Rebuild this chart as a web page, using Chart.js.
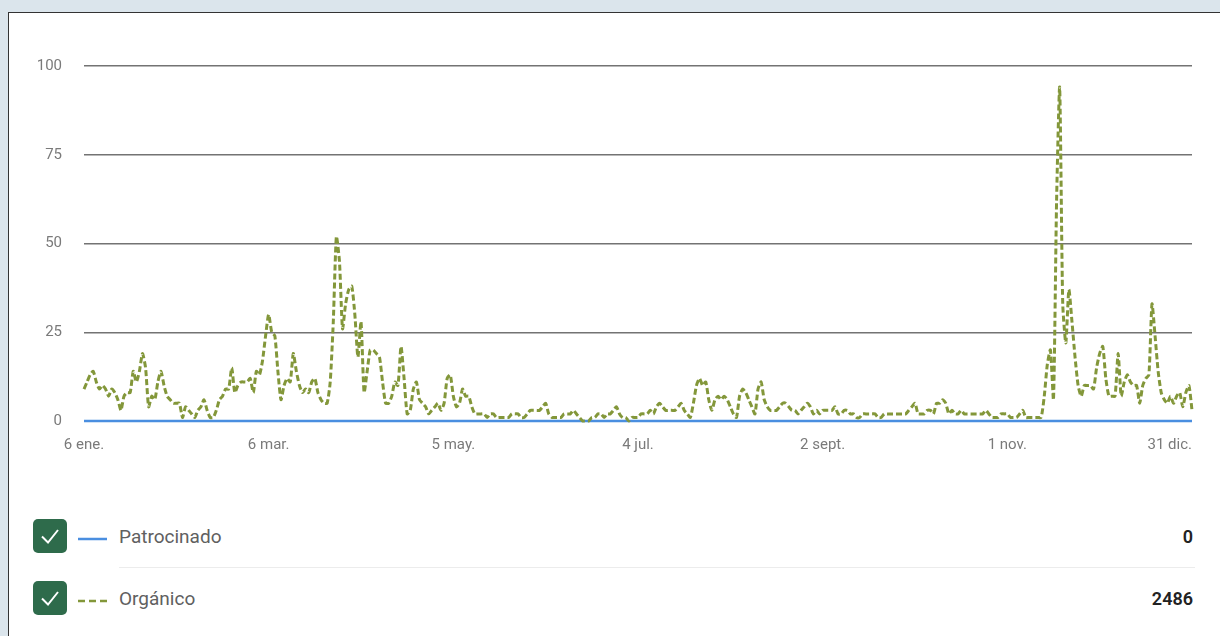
<!DOCTYPE html>
<html>
<head>
<meta charset="utf-8">
<script src="https://cdn.jsdelivr.net/npm/chart.js@4.4.1/dist/chart.umd.min.js"></script>
<style>
    body { margin: 0; width: 1220px; height: 636px; overflow: hidden; background: #dbe5ec; font-family: Roboto, "Noto Sans", sans-serif; }
    #card { position: absolute; left: 8px; top: 12px; width: 1220px; height: 640px; background: #fff; border-top: 1px solid #333; border-left: 1px solid #333; }
    #chartBox { position: absolute; left: 0; top: 0; width: 1211px; height: 460px; }
    .row { position: absolute; left: 24px; width: 1160px; height: 34px; display: flex; align-items: center; }
    .check { width: 34px; height: 34px; border-radius: 5px; background: #2e6b4b; flex: none; }
    .sample { width: 29px; margin-left: 11px; margin-right: 12px; flex: none; }
    .name { font-size: 19px; color: #606060; flex: 1; }
    .total { font-size: 18px; font-weight: 600; color: #222; }
    #sep { position: absolute; left: 110px; top: 554px; width: 1076px; height: 1px; background: #ececec; }
</style>
</head>
<body>
<div id="card">
    <div id="chartBox"><canvas id="myChart"></canvas></div>
    <div id="legend"></div>
    <div id="sep"></div>
</div>
<script>
// daily values, 6 ene. -> 31 dic.
const organico = [
    9, 11, 13, 14, 11, 9, 10, 9, 7, 9,
    8, 6, 3, 7, 8, 8, 14, 11, 14, 19,
    15, 4, 7, 6, 11, 14, 10, 7, 6, 5,
    5, 5, 1, 4, 3, 2, 1, 3, 4, 6,
    3, 1, 1, 3, 6, 7, 9, 9, 15, 8,
    10, 11, 11, 11, 12, 8, 14, 13, 17, 24,
    30,
    25, 24, 14, 6, 10, 12, 11, 19, 14, 10,
    8, 9, 8, 11, 12, 8, 6, 5, 5, 11,
    28, 52, 45, 26, 33, 37, 38, 30, 18, 28,
    8, 14, 20, 20, 19, 18, 11, 5, 5, 7,
    11, 10, 21, 12, 2, 3, 9, 11, 6, 5,
    4, 2, 3, 4, 5, 3, 5, 12, 13,
    7, 4, 5, 9, 7, 7, 4, 2, 2, 2,
    2, 1, 2, 2, 1, 1, 1, 1, 1, 2,
    2, 2, 1, 1, 2, 3, 3, 3, 3, 4,
    5, 2, 1, 1, 1, 1, 2, 2, 2, 3,
    2, 1, 0, 0, 0, 1, 1, 2, 2, 1,
    2, 2, 3, 4, 2, 1, 1, 0, 1, 1,
    1, 2, 2, 2, 3, 2, 4, 5, 4, 3,
    3, 3, 3, 4, 5, 3, 2, 1, 5, 10,
    12, 10, 11, 6, 3, 6, 7, 6, 7, 6,
    4, 2, 1, 7, 9, 8, 6, 4, 2, 9,
    11, 6, 4, 3, 3, 3, 4, 5, 5, 4,
    3, 3, 2, 3, 4, 5, 4, 2, 3, 2,
    3, 3, 3, 3, 4, 2, 2, 3, 3, 2,
    2, 1, 1, 2, 2, 2, 2, 2, 1, 1,
    2, 2, 2, 2, 2, 2, 2, 2, 3, 4,
    5, 2, 2, 2, 3, 3, 2, 5, 5, 6,
    5, 2, 3, 2, 2, 3, 2, 2, 2, 2,
    2, 2, 2, 3, 2, 1, 1, 1, 2, 2,
    2, 1, 1, 1, 2, 3, 1, 1, 1, 1,
    1, 1, 7, 16, 20, 6, 62, 94, 33, 22,
    37, 28, 18, 10, 7, 10, 10, 10, 9, 15,
    19, 21, 12, 7, 7, 7, 19, 7, 11, 13,
    11, 10, 10, 5, 10, 12, 13, 33, 24, 14,
    8, 6, 5, 7, 5, 7, 8, 4, 8, 10,
    3
];

const patrocinado = [
    0, 0, 0, 0, 0, 0, 0, 0, 0, 0, 0, 0, 0, 0, 0, 0, 0, 0, 0,
    0, 0, 0, 0, 0, 0, 0, 0, 0, 0, 0, 0, 0, 0, 0, 0, 0, 0, 0,
    0, 0, 0, 0, 0, 0, 0, 0, 0, 0, 0, 0, 0, 0, 0, 0, 0, 0, 0,
    0, 0, 0, 0, 0, 0, 0, 0, 0, 0, 0, 0, 0, 0, 0, 0, 0, 0, 0,
    0, 0, 0, 0, 0, 0, 0, 0, 0, 0, 0, 0, 0, 0, 0, 0, 0, 0, 0,
    0, 0, 0, 0, 0, 0, 0, 0, 0, 0, 0, 0, 0, 0, 0, 0, 0, 0, 0,
    0, 0, 0, 0, 0, 0, 0, 0, 0, 0, 0, 0, 0, 0, 0, 0, 0, 0, 0,
    0, 0, 0, 0, 0, 0, 0, 0, 0, 0, 0, 0, 0, 0, 0, 0, 0, 0, 0,
    0, 0, 0, 0, 0, 0, 0, 0, 0, 0, 0, 0, 0, 0, 0, 0, 0, 0, 0,
    0, 0, 0, 0, 0, 0, 0, 0, 0, 0, 0, 0, 0, 0, 0, 0, 0, 0, 0,
    0, 0, 0, 0, 0, 0, 0, 0, 0, 0, 0, 0, 0, 0, 0, 0, 0, 0, 0,
    0, 0, 0, 0, 0, 0, 0, 0, 0, 0, 0, 0, 0, 0, 0, 0, 0, 0, 0,
    0, 0, 0, 0, 0, 0, 0, 0, 0, 0, 0, 0, 0, 0, 0, 0, 0, 0, 0,
    0, 0, 0, 0, 0, 0, 0, 0, 0, 0, 0, 0, 0, 0, 0, 0, 0, 0, 0,
    0, 0, 0, 0, 0, 0, 0, 0, 0, 0, 0, 0, 0, 0, 0, 0, 0, 0, 0,
    0, 0, 0, 0, 0, 0, 0, 0, 0, 0, 0, 0, 0, 0, 0, 0, 0, 0, 0,
    0, 0, 0, 0, 0, 0, 0, 0, 0, 0, 0, 0, 0, 0, 0, 0, 0, 0, 0,
    0, 0, 0, 0, 0, 0, 0, 0, 0, 0, 0, 0, 0, 0, 0, 0, 0, 0, 0,
    0, 0, 0, 0, 0, 0, 0, 0, 0, 0, 0, 0, 0, 0, 0, 0, 0, 0, 0
];

const tickLabels = ['6 ene.', '6 mar.', '5 may.', '4 jul.', '2 sept.', '1 nov.', '31 dic.'];
const tickIndex = [0, 60, 120, 180, 240, 300, 360];

const seriesNames = ['Patrocinado', 'Orgánico'];
const seriesTotals = ['0', '2486'];

const days = organico.map((v, i) => i);

// x labels drawn by hand so the last one can sit flush with the plot edge
const xLabelPlugin = {
    id: 'xLabels',
    afterDraw(chart) {
        const { ctx, chartArea, scales } = chart;
        ctx.save();
        ctx.font = '15px Roboto';
        ctx.fillStyle = '#7a7a7a';
        ctx.textBaseline = 'middle';
        ctx.textAlign = 'left';
        tickIndex.forEach((idx, i) => {
            const x = scales.x.getPixelForValue(idx);
            const w = ctx.measureText(tickLabels[i]).width;
            let left = x - w / 2;
            if (left + w > chartArea.right) left = chartArea.right - w;
            ctx.fillText(tickLabels[i], left, chartArea.bottom + 24);
        });
        ctx.restore();
    }
};

const ctx = document.getElementById('myChart').getContext('2d');
new Chart(ctx, {
    type: 'line',
    data: {
        labels: days,
        datasets: [
            {
                label: seriesNames[1],
                data: organico,
                borderColor: '#83973a',
                borderWidth: 3,
                borderDash: [6, 3],
                tension: 0.2,
                pointRadius: 0,
                fill: false,
                clip: false
            },
            {
                label: seriesNames[0],
                data: patrocinado,
                borderColor: '#4a8ee0',
                borderWidth: 2.5,
                pointRadius: 0,
                fill: false,
                clip: false
            }
        ]
    },
    options: {
        responsive: true,
        maintainAspectRatio: false,
        animation: false,
        layout: { padding: { left: 0, right: 28, top: 53, bottom: 52 } },
        plugins: { legend: { display: false }, tooltip: { enabled: false } },
        scales: {
            x: {
                grid: { display: false },
                border: { display: false },
                ticks: { display: false },
                afterFit: s => { s.height = 0; }
            },
            y: {
                min: 0,
                max: 100,
                ticks: { stepSize: 25, padding: 22, color: '#7a7a7a', font: { family: 'Roboto', size: 15 } },
                grid: { color: '#737373', lineWidth: 1.5, drawTicks: false },
                border: { display: false },
                afterFit: s => { s.width = 75; }
            }
        }
    },
    plugins: [xLabelPlugin]
});

// legend rows
const legend = document.getElementById('legend');
const checkSvg = '<svg width="34" height="34"><polyline points="9,17.5 15,23.5 25,11" fill="none" stroke="#fff" stroke-width="2"/></svg>';
const samples = [
    '<svg width="29" height="6"><line x1="0" y1="3" x2="29" y2="3" stroke="#4a8ee0" stroke-width="2.5"/></svg>',
    '<svg width="29" height="6"><line x1="0" y1="3" x2="29" y2="3" stroke="#83973a" stroke-width="2.5" stroke-dasharray="7,4"/></svg>'
];
const rowTops = [506, 568];
seriesNames.forEach((name, i) => {
    const row = document.createElement('div');
    row.className = 'row';
    row.style.top = rowTops[i] + 'px';
    row.innerHTML = '<div class="check">' + checkSvg + '</div>' +
        '<div class="sample">' + samples[i] + '</div>' +
        '<div class="name">' + name + '</div>' +
        '<div class="total">' + seriesTotals[i] + '</div>';
    legend.appendChild(row);
});
</script>
</body>
</html>
